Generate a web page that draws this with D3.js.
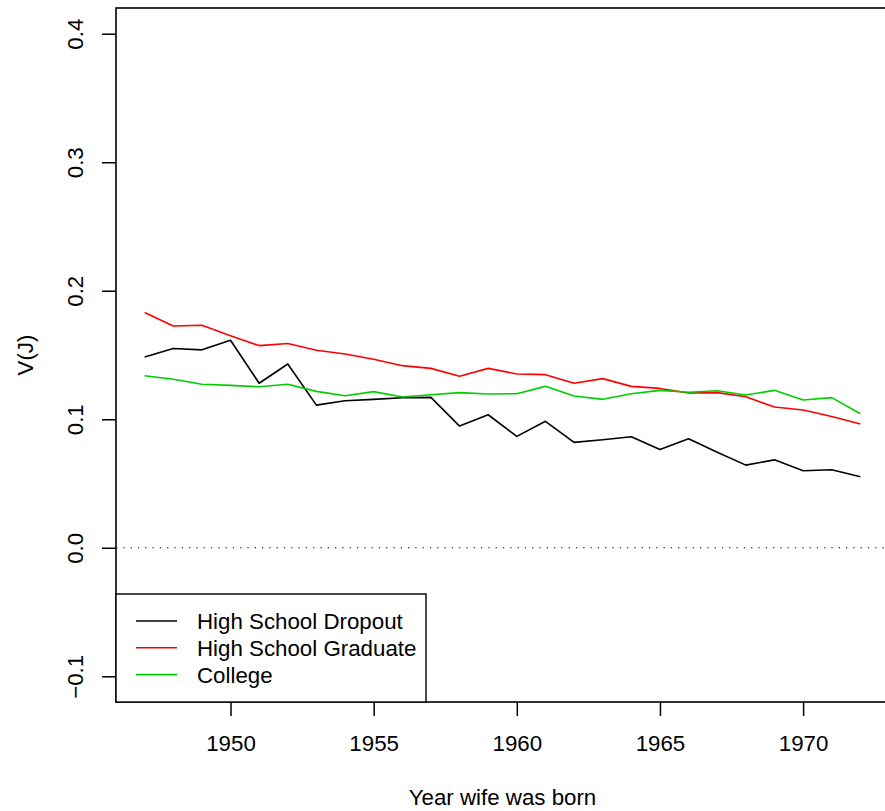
<!DOCTYPE html>
<html>
<head>
<meta charset="utf-8">
<script src="https://cdn.jsdelivr.net/npm/d3@7"></script>
<style>
  body { margin: 0; background: #fff; }
  text { font-family: "Liberation Sans", Arial, sans-serif; fill: #000; }
</style>
</head>
<body>
<div id="chart"></div>
<script>
// data
var years = [1947, 1948, 1949, 1950, 1951, 1952, 1953, 1954, 1955, 1956, 1957, 1958, 1959,
             1960, 1961, 1962, 1963, 1964, 1965, 1966, 1967, 1968, 1969, 1970, 1971, 1972];
var dropout = [0.1485, 0.155, 0.154, 0.1615, 0.128, 0.143, 0.111, 0.1144, 0.1155, 0.1167, 0.117, 0.0947, 0.1035,
               0.0867, 0.0984, 0.082, 0.084, 0.0864, 0.0765, 0.0848, 0.0744, 0.0643, 0.0684, 0.0599, 0.0607, 0.0552];
var graduate = [0.183, 0.1726, 0.1732, 0.165, 0.1573, 0.1589, 0.1537, 0.1508, 0.1467, 0.1417, 0.1396, 0.1334, 0.1396,
                0.1352, 0.1347, 0.128, 0.1316, 0.1256, 0.124, 0.1204, 0.1207, 0.1175, 0.1095, 0.1072, 0.1022, 0.0963];
var college = [0.1339, 0.1311, 0.1272, 0.1264, 0.1253, 0.1272, 0.1217, 0.1183, 0.1215, 0.1173, 0.1191, 0.1207, 0.1196,
               0.1199, 0.1256, 0.1181, 0.1155, 0.1199, 0.1225, 0.121, 0.1222, 0.1189, 0.1225, 0.115, 0.1168, 0.1043];
var seriesNames = ["High School Dropout", "High School Graduate", "College"];
var seriesColors = ["#000000", "#ff0000", "#00cd00"];
var xTicks = [1950, 1955, 1960, 1965, 1970];
var yTicks = [-0.1, 0.0, 0.1, 0.2, 0.3, 0.4];

var W = 885, H = 811;
var margin = {left: 116, top: 8, right: -4, bottom: 109};
var width = W - margin.left - margin.right,
    height = H - margin.top - margin.bottom;
var fs = 22.3;

var svg = d3.select("#chart").append("svg")
    .attr("width", W)
    .attr("height", H);
var g = svg.append("g").attr("transform", "translate(" + margin.left + "," + margin.top + ")");

// R style 4% padding
var x = d3.scaleLinear().domain([1946, 1973]).range([0, width]),
    y = d3.scaleLinear().domain([-0.12, 0.42]).range([height, 0]);

var series = [dropout, graduate, college].map(function(vals, i) {
  return {
    name: seriesNames[i],
    color: seriesColors[i],
    values: years.map(function(yr, j) { return {year: yr, v: vals[j]}; })
  };
});

// zero reference line
g.append("line")
  .attr("x1", 0).attr("x2", width)
  .attr("y1", y(0)).attr("y2", y(0))
  .attr("stroke", "#000")
  .attr("stroke-width", 1)
  .attr("stroke-dasharray", "1.3 6");

var line = d3.line()
  .x(function(d) { return x(d.year); })
  .y(function(d) { return y(d.v); });

g.selectAll(".series")
  .data(series)
  .enter().append("path")
  .attr("class", "series")
  .attr("d", function(d) { return line(d.values); })
  .attr("fill", "none")
  .attr("stroke", function(d) { return d.color; })
  .attr("stroke-width", 1.6)
  .attr("stroke-linejoin", "round");

// axes
var xAxis = g.append("g")
  .attr("transform", "translate(0," + height + ")")
  .call(d3.axisBottom(x).tickValues(xTicks).tickFormat(d3.format("d")).tickSize(14).tickSizeOuter(0));
xAxis.select(".domain").remove();
xAxis.selectAll(".tick line").attr("stroke-width", 1.5);
xAxis.selectAll(".tick text")
  .attr("y", 33)
  .attr("dy", "0.71em")
  .style("font-size", fs + "px")
  .style("font-family", "Liberation Sans, Arial, sans-serif");

var yAxis = g.append("g")
  .call(d3.axisLeft(y).tickValues(yTicks).tickSize(14).tickSizeOuter(0)
    .tickFormat(function(d) { return d3.format(".1f")(d).replace("-", "\u2212"); }));
yAxis.select(".domain").remove();
yAxis.selectAll(".tick line").attr("stroke-width", 1.5);
yAxis.selectAll(".tick text")
  .attr("x", null).attr("dy", null)
  .attr("text-anchor", "middle")
  .attr("transform", "translate(-33,0) rotate(-90)")
  .style("font-size", fs + "px")
  .style("font-family", "Liberation Sans, Arial, sans-serif");

// plot box
g.append("rect")
  .attr("x", 0).attr("y", 0)
  .attr("width", width).attr("height", height)
  .attr("fill", "none")
  .attr("stroke", "#000")
  .attr("stroke-width", 1.6);

// axis titles
svg.append("text")
  .attr("x", margin.left + width / 2)
  .attr("y", 805)
  .attr("text-anchor", "middle")
  .style("font-size", fs + "px")
  .text("Year wife was born");

svg.append("text")
  .attr("transform", "translate(33," + (margin.top + height / 2) + ") rotate(-90)")
  .attr("text-anchor", "middle")
  .style("font-size", fs + "px")
  .text("V(J)");

// legend
var leg = g.append("g").attr("transform", "translate(0," + (height - 108) + ")");
leg.append("rect")
  .attr("x", 0).attr("y", 0)
  .attr("width", 310).attr("height", 108)
  .attr("fill", "#fff")
  .attr("stroke", "#000")
  .attr("stroke-width", 1.4);
var items = leg.selectAll(".item")
  .data(series)
  .enter().append("g")
  .attr("transform", function(d, i) { return "translate(0," + (27 + i * 26.8) + ")"; });
items.append("line")
  .attr("x1", 20).attr("x2", 61)
  .attr("stroke", function(d) { return d.color; })
  .attr("stroke-width", 1.6);
items.append("text")
  .attr("x", 81)
  .attr("dy", "0.36em")
  .style("font-size", fs + "px")
  .text(function(d) { return d.name; });
</script>
</body>
</html>
